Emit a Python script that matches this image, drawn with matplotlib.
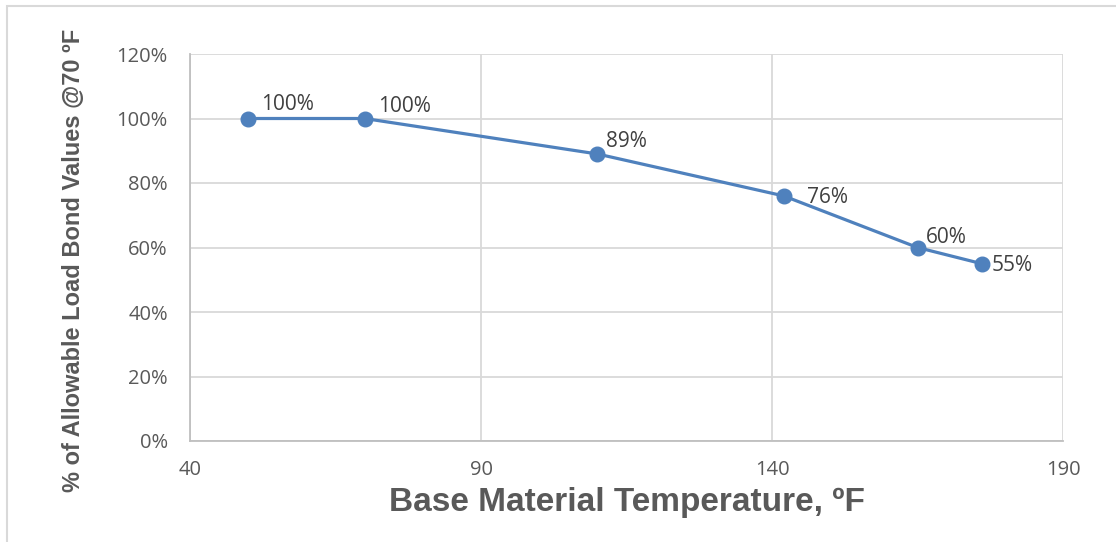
import matplotlib.pyplot as plt
from matplotlib.patches import Rectangle
from matplotlib.ticker import FuncFormatter

# base material temperature (F) and share of the 70 F bond value
temps = [50, 70, 110, 142, 165, 176]
percent = [100, 100, 89, 76, 60, 55]
point_labels = ['100%', '100%', '89%', '76%', '60%', '55%']

x_ticks = [40, 90, 140, 190]
y_ticks = [0, 20, 40, 60, 80, 100, 120]

# offsets (points) of each data label from its marker
label_offsets = [(9, 10), (10, 9), (6, 9), (17, -1), (6, 7), (7, -1)]

blue = '#4f81bd'
grid_grey = '#d9d9d9'

fig = plt.figure(figsize=(11.16, 5.42), dpi=100)
ax = fig.add_axes([190 / 1116, 101 / 542, 873 / 1116, 387 / 542])

# outer frame of the chart area (cut off at right and bottom)
fig.patches.append(Rectangle((7 / 1116, -0.2), 1.2, 1.2 - 6 / 542,
                             transform=fig.transFigure, fill=False,
                             edgecolor=grid_grey, linewidth=1.5))

ax.plot(temps, percent, color=blue, linewidth=2.3, marker='o',
        markersize=10.5, markerfacecolor=blue, markeredgecolor=blue, zorder=3)

for t, p, lab, off in zip(temps, percent, point_labels, label_offsets):
    ax.annotate(lab, (t, p), xytext=off, textcoords='offset points',
                ha='left', va='center', fontsize=15, color='#404040',
                family='Open Sans', zorder=4)

ax.set_xlim(40, 190)
ax.set_ylim(0, 120)
ax.set_xticks(x_ticks)
ax.set_yticks(y_ticks)
ax.yaxis.set_major_formatter(FuncFormatter(lambda v, pos: f'{v:.0f}%'))

ax.grid(True, color=grid_grey, linewidth=1.3)
ax.set_axisbelow(True)
for side in ['top', 'right']:
    ax.spines[side].set_visible(False)
for side in ['left', 'bottom']:
    ax.spines[side].set_color('#bfbfbf')
    ax.spines[side].set_linewidth(1.3)

ax.tick_params(length=0, labelsize=14.5, labelcolor='#595959')
ax.tick_params(axis='x', pad=14)
ax.tick_params(axis='y', pad=16)
for lbl in ax.get_xticklabels() + ax.get_yticklabels():
    lbl.set_family('Open Sans')

ax.set_xlabel('Base Material Temperature, ºF', fontsize=24, fontweight='bold',
              color='#595959', family=['Liberation Sans', 'DejaVu Sans'],
              labelpad=5)
ax.set_ylabel('% of Allowable Load Bond Values @70 ºF', fontsize=17,
              fontweight='bold', color='#595959',
              family=['Liberation Sans', 'DejaVu Sans'])
ax.yaxis.set_label_coords(-0.12, 0.468)

fig.savefig('out.png', dpi=100)
